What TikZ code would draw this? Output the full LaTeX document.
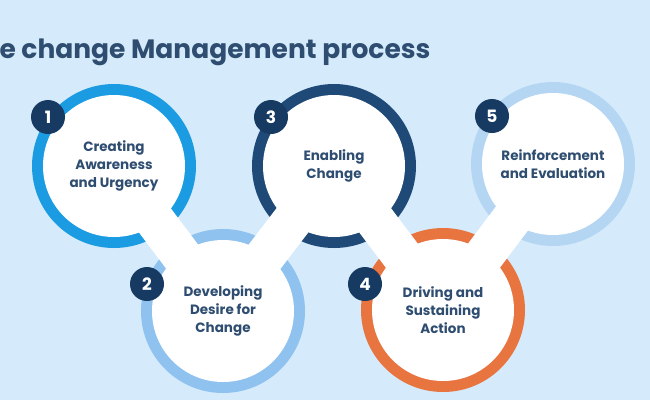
\documentclass[tikz,border=0pt]{standalone}
\usepackage{fontspec}
\setmainfont{Poppins}
\begin{document}
\begin{tikzpicture}[x=1pt,y=-1pt,
  inner/.style={circle,fill=white,minimum size=142pt,inner sep=0pt,align=center,font=\bfseries\fontsize{13.5}{18}\selectfont,text=navyt},
  badge/.style={circle,fill=navyb,minimum size=34pt,inner sep=0pt,text=white,font=\bfseries\fontsize{17}{17}\selectfont},
  neck/.style={white,line width=40pt}]
\definecolor{bg}{HTML}{D5EBFB}
\definecolor{navyt}{HTML}{2E4D70}
\definecolor{navyb}{HTML}{173A63}
\definecolor{cA}{HTML}{1B9CE2}
\definecolor{cB}{HTML}{8FC2EF}
\definecolor{cC}{HTML}{1F4A78}
\definecolor{cD}{HTML}{E8743F}
\definecolor{cE}{HTML}{B4D6F3}
\fill[bg] (0,0) rectangle (650,400);
\useasboundingbox (0,0) rectangle (650,400);
\node[anchor=west,text=navyt,font=\bfseries\fontsize{26.5}{26.5}\selectfont] (title) at (-4,52) {e change Management process};
\coordinate (c1) at (114,166);
\coordinate (c2) at (223,311);
\coordinate (c3) at (334,166);
\coordinate (c4) at (443,310);
\coordinate (c5) at (553,164);
\fill[cB] (c2) circle (82);
\fill[cD] (c4) circle (82);
\fill[cA] (c1) circle (82);
\fill[cC] (c3) circle (82);
\fill[cE] (c5) circle (82);
\draw[neck] (c1) -- (c2) -- (c3) -- (c4) -- (c5);
\node[inner] (n1) at (c1) {Creating\\Awareness\\and Urgency};
\node[inner] (n2) at (c2) {Developing\\Desire for\\Change};
\node[inner] (n3) at (c3) {Enabling\\Change};
\node[inner] (n4) at (c4) {Driving and\\Sustaining\\Action};
\node[inner] (n5) at (c5) {Reinforcement\\and Evaluation};
\node[badge] (b1) at (48,117) {1};
\node[badge] (b2) at (147,284) {2};
\node[badge] (b3) at (271,117) {3};
\node[badge] (b4) at (365,284) {4};
\node[badge] (b5) at (492,116) {5};
\end{tikzpicture}
\end{document}
